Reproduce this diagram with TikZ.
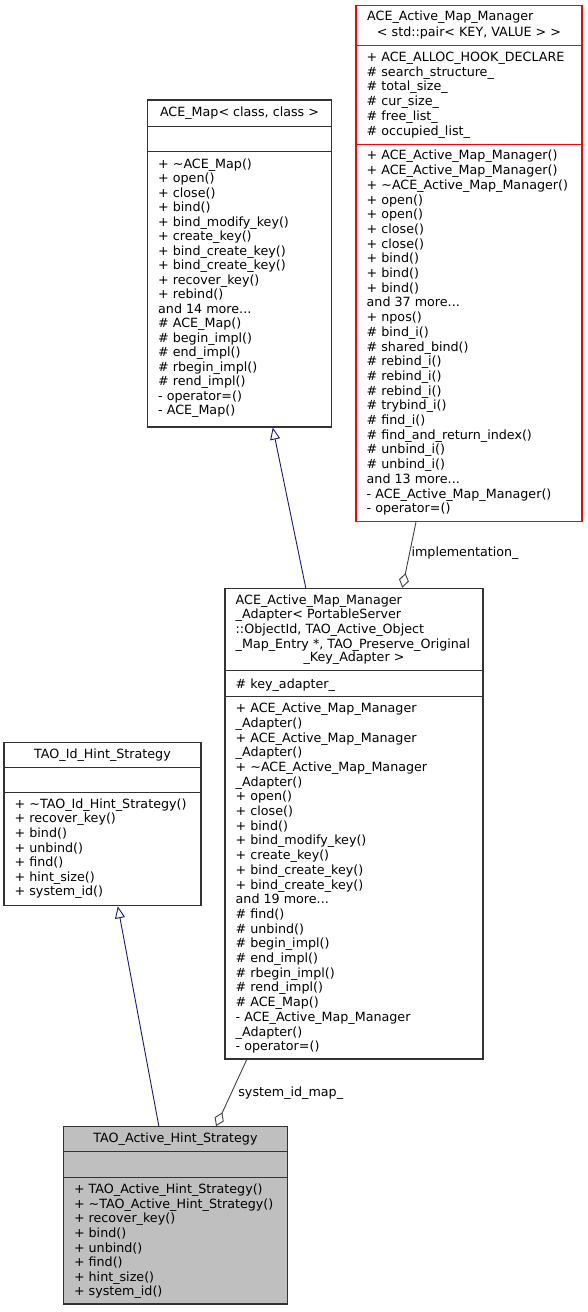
\documentclass[tikz,border=0pt]{standalone}
\usepackage{fontspec}
\setmainfont{DejaVu Sans}
\usepackage{tikz}
\usetikzlibrary{arrows.meta, positioning}
\definecolor{inhblue}{HTML}{191970}
\definecolor{aggrgray}{HTML}{404040}
\definecolor{hintgray}{HTML}{BFBFBF}

\begin{document}
\begin{tikzpicture}[x=1pt, y=-1pt,
      classbox/.style={rectangle, draw=black!80, line width=1.1pt, inner sep=0pt},
      classname/.style={inner sep=0pt, font=\fontsize{12.7}{14.6}\selectfont},
      members/.style={inner sep=0pt, align=left, anchor=north west, font=\fontsize{12.7}{14.7}\selectfont},
      inherit/.style={draw=inhblue, line width=0.9pt, -{Triangle[open, length=12pt, width=10pt]}},
      aggr/.style={draw=aggrgray, line width=0.9pt, -{Diamond[open, length=15pt, width=10pt]}},
      rolename/.style={inner sep=0pt, font=\fontsize{12.7}{14.6}\selectfont}]

      \useasboundingbox (0,0) rectangle (588,1312);

      % class boxes
      \node[classbox, minimum width=184pt, minimum height=327pt] (acemap) at (239.5,263.5) {};
      \node[classbox, draw=red, minimum width=226pt, minimum height=516pt] (mapmgr) at (469,263.7) {};
      \node[classbox, minimum width=258pt, minimum height=470.7pt] (adapter) at (354,823.65) {};
      \node[classbox, minimum width=197pt, minimum height=163.4pt] (idhint) at (102.5,824) {};
      \node[classbox, fill=hintgray, minimum width=224.4pt, minimum height=177.3pt] (activehint) at (175.5,1215.3) {};

      % compartment lines
      \foreach \y in {126.7, 151.7} {
        \draw[black!80, line width=1.1pt] (acemap.west |- 0,\y) -- (acemap.east |- 0,\y);
      }
      \foreach \y in {45.7, 144.3} {
        \draw[red, line width=1.1pt] (mapmgr.west |- 0,\y) -- (mapmgr.east |- 0,\y);
      }
      \foreach \y in {670.7, 696.7} {
        \draw[black!80, line width=1.1pt] (adapter.west |- 0,\y) -- (adapter.east |- 0,\y);
      }
      \foreach \y in {767.3, 792.3} {
        \draw[black!80, line width=1.1pt] (idhint.west |- 0,\y) -- (idhint.east |- 0,\y);
      }
      \foreach \y in {1151.7, 1177.7} {
        \draw[black!80, line width=1.1pt] (activehint.west |- 0,\y) -- (activehint.east |- 0,\y);
      }

      % ACE_Map
      \node[classname] (acemapname) at (239.5,113.5) {ACE\_Map< class, class >};
      \node[members, font=\fontsize{12.7}{14.5}\selectfont] (acemapops) at (158,158.1) {\strut + \textasciitilde ACE\_Map()\\
        + open()\\
        + close()\\
        + bind()\\
        + bind\_modify\_key()\\
        + create\_key()\\
        + bind\_create\_key()\\
        + bind\_create\_key()\\
        + recover\_key()\\
        + rebind()\\
        and 14 more...\\
        \# ACE\_Map()\\
        \# begin\_impl()\\
        \# end\_impl()\\
        \# rbegin\_impl()\\
        \# rend\_impl()\\
        - operator=()\\
        - ACE\_Map()};

      % ACE_Active_Map_Manager
      \node[classname, anchor=west] (mapmgrname) at (367,17.3) {ACE\_Active\_Map\_Manager};
      \node[classname] (mapmgrargs) at (469,32.7) {< std::pair< KEY, VALUE > >};
      \node[members] (mapmgrattrs) at (366.5,51.1) {\strut + ACE\_ALLOC\_HOOK\_DECLARE\\
        \# search\_structure\_\\
        \# total\_size\_\\
        \# cur\_size\_\\
        \# free\_list\_\\
        \# occupied\_list\_};
      \node[members] (mapmgrops) at (366.5,149.5) {\strut + ACE\_Active\_Map\_Manager()\\
        + ACE\_Active\_Map\_Manager()\\
        + \textasciitilde ACE\_Active\_Map\_Manager()\\
        + open()\\
        + open()\\
        + close()\\
        + close()\\
        + bind()\\
        + bind()\\
        + bind()\\
        and 37 more...\\
        + npos()\\
        \# bind\_i()\\
        \# shared\_bind()\\
        \# rebind\_i()\\
        \# rebind\_i()\\
        \# rebind\_i()\\
        \# trybind\_i()\\
        \# find\_i()\\
        \# find\_and\_return\_index()\\
        \# unbind\_i()\\
        \# unbind\_i()\\
        and 13 more...\\
        - ACE\_Active\_Map\_Manager()\\
        - operator=()};

      % ACE_Active_Map_Manager_Adapter
      \node[members, font=\fontsize{12.7}{14.6}\selectfont] (adaptername) at (235.5,593.8) {\strut ACE\_Active\_Map\_Manager\\
        \_Adapter< PortableServer\\
        ::ObjectId, TAO\_Active\_Object\\
        \_Map\_Entry *, TAO\_Preserve\_Original};
      \node[classname] (adapterargs) at (354,658.3) {\_Key\_Adapter >};
      \node[members] (adapterattrs) at (235.5,677.8) {\strut \# key\_adapter\_};
      \node[members] (adapterops) at (235.5,702.1) {\strut + ACE\_Active\_Map\_Manager\\
        \_Adapter()\\
        + ACE\_Active\_Map\_Manager\\
        \_Adapter()\\
        + \textasciitilde ACE\_Active\_Map\_Manager\\
        \_Adapter()\\
        + open()\\
        + close()\\
        + bind()\\
        + bind\_modify\_key()\\
        + create\_key()\\
        + bind\_create\_key()\\
        + bind\_create\_key()\\
        and 19 more...\\
        \# find()\\
        \# unbind()\\
        \# begin\_impl()\\
        \# end\_impl()\\
        \# rbegin\_impl()\\
        \# rend\_impl()\\
        \# ACE\_Map()\\
        - ACE\_Active\_Map\_Manager\\
        \_Adapter()\\
        - operator=()};

      % TAO_Id_Hint_Strategy
      \node[classname] (idhintname) at (102.5,754.8) {TAO\_Id\_Hint\_Strategy};
      \node[members, font=\fontsize{12.7}{14.6}\selectfont] (idhintops) at (14.5,797.8) {\strut + \textasciitilde TAO\_Id\_Hint\_Strategy()\\
        + recover\_key()\\
        + bind()\\
        + unbind()\\
        + find()\\
        + hint\_size()\\
        + system\_id()};

      % TAO_Active_Hint_Strategy
      \node[classname] (activehintname) at (175.5,1139.2) {TAO\_Active\_Hint\_Strategy};
      \node[members, font=\fontsize{12.7}{14.6}\selectfont] (activehintops) at (73.8,1183.3) {\strut + TAO\_Active\_Hint\_Strategy()\\
        + \textasciitilde TAO\_Active\_Hint\_Strategy()\\
        + recover\_key()\\
        + bind()\\
        + unbind()\\
        + find()\\
        + hint\_size()\\
        + system\_id()};

      % relations
      \draw[inherit] (adapter) -- (acemap);
      \draw[aggr] (mapmgr) -- node[rolename, pos=0.47, right=1.5pt] {implementation\_} (adapter);
      \draw[inherit] (activehint) -- (idhint);
      \draw[aggr] (adapter) -- node[rolename, pos=0.5, right=6.5pt] {system\_id\_map\_} (activehint);
    \end{tikzpicture}
\end{document}
